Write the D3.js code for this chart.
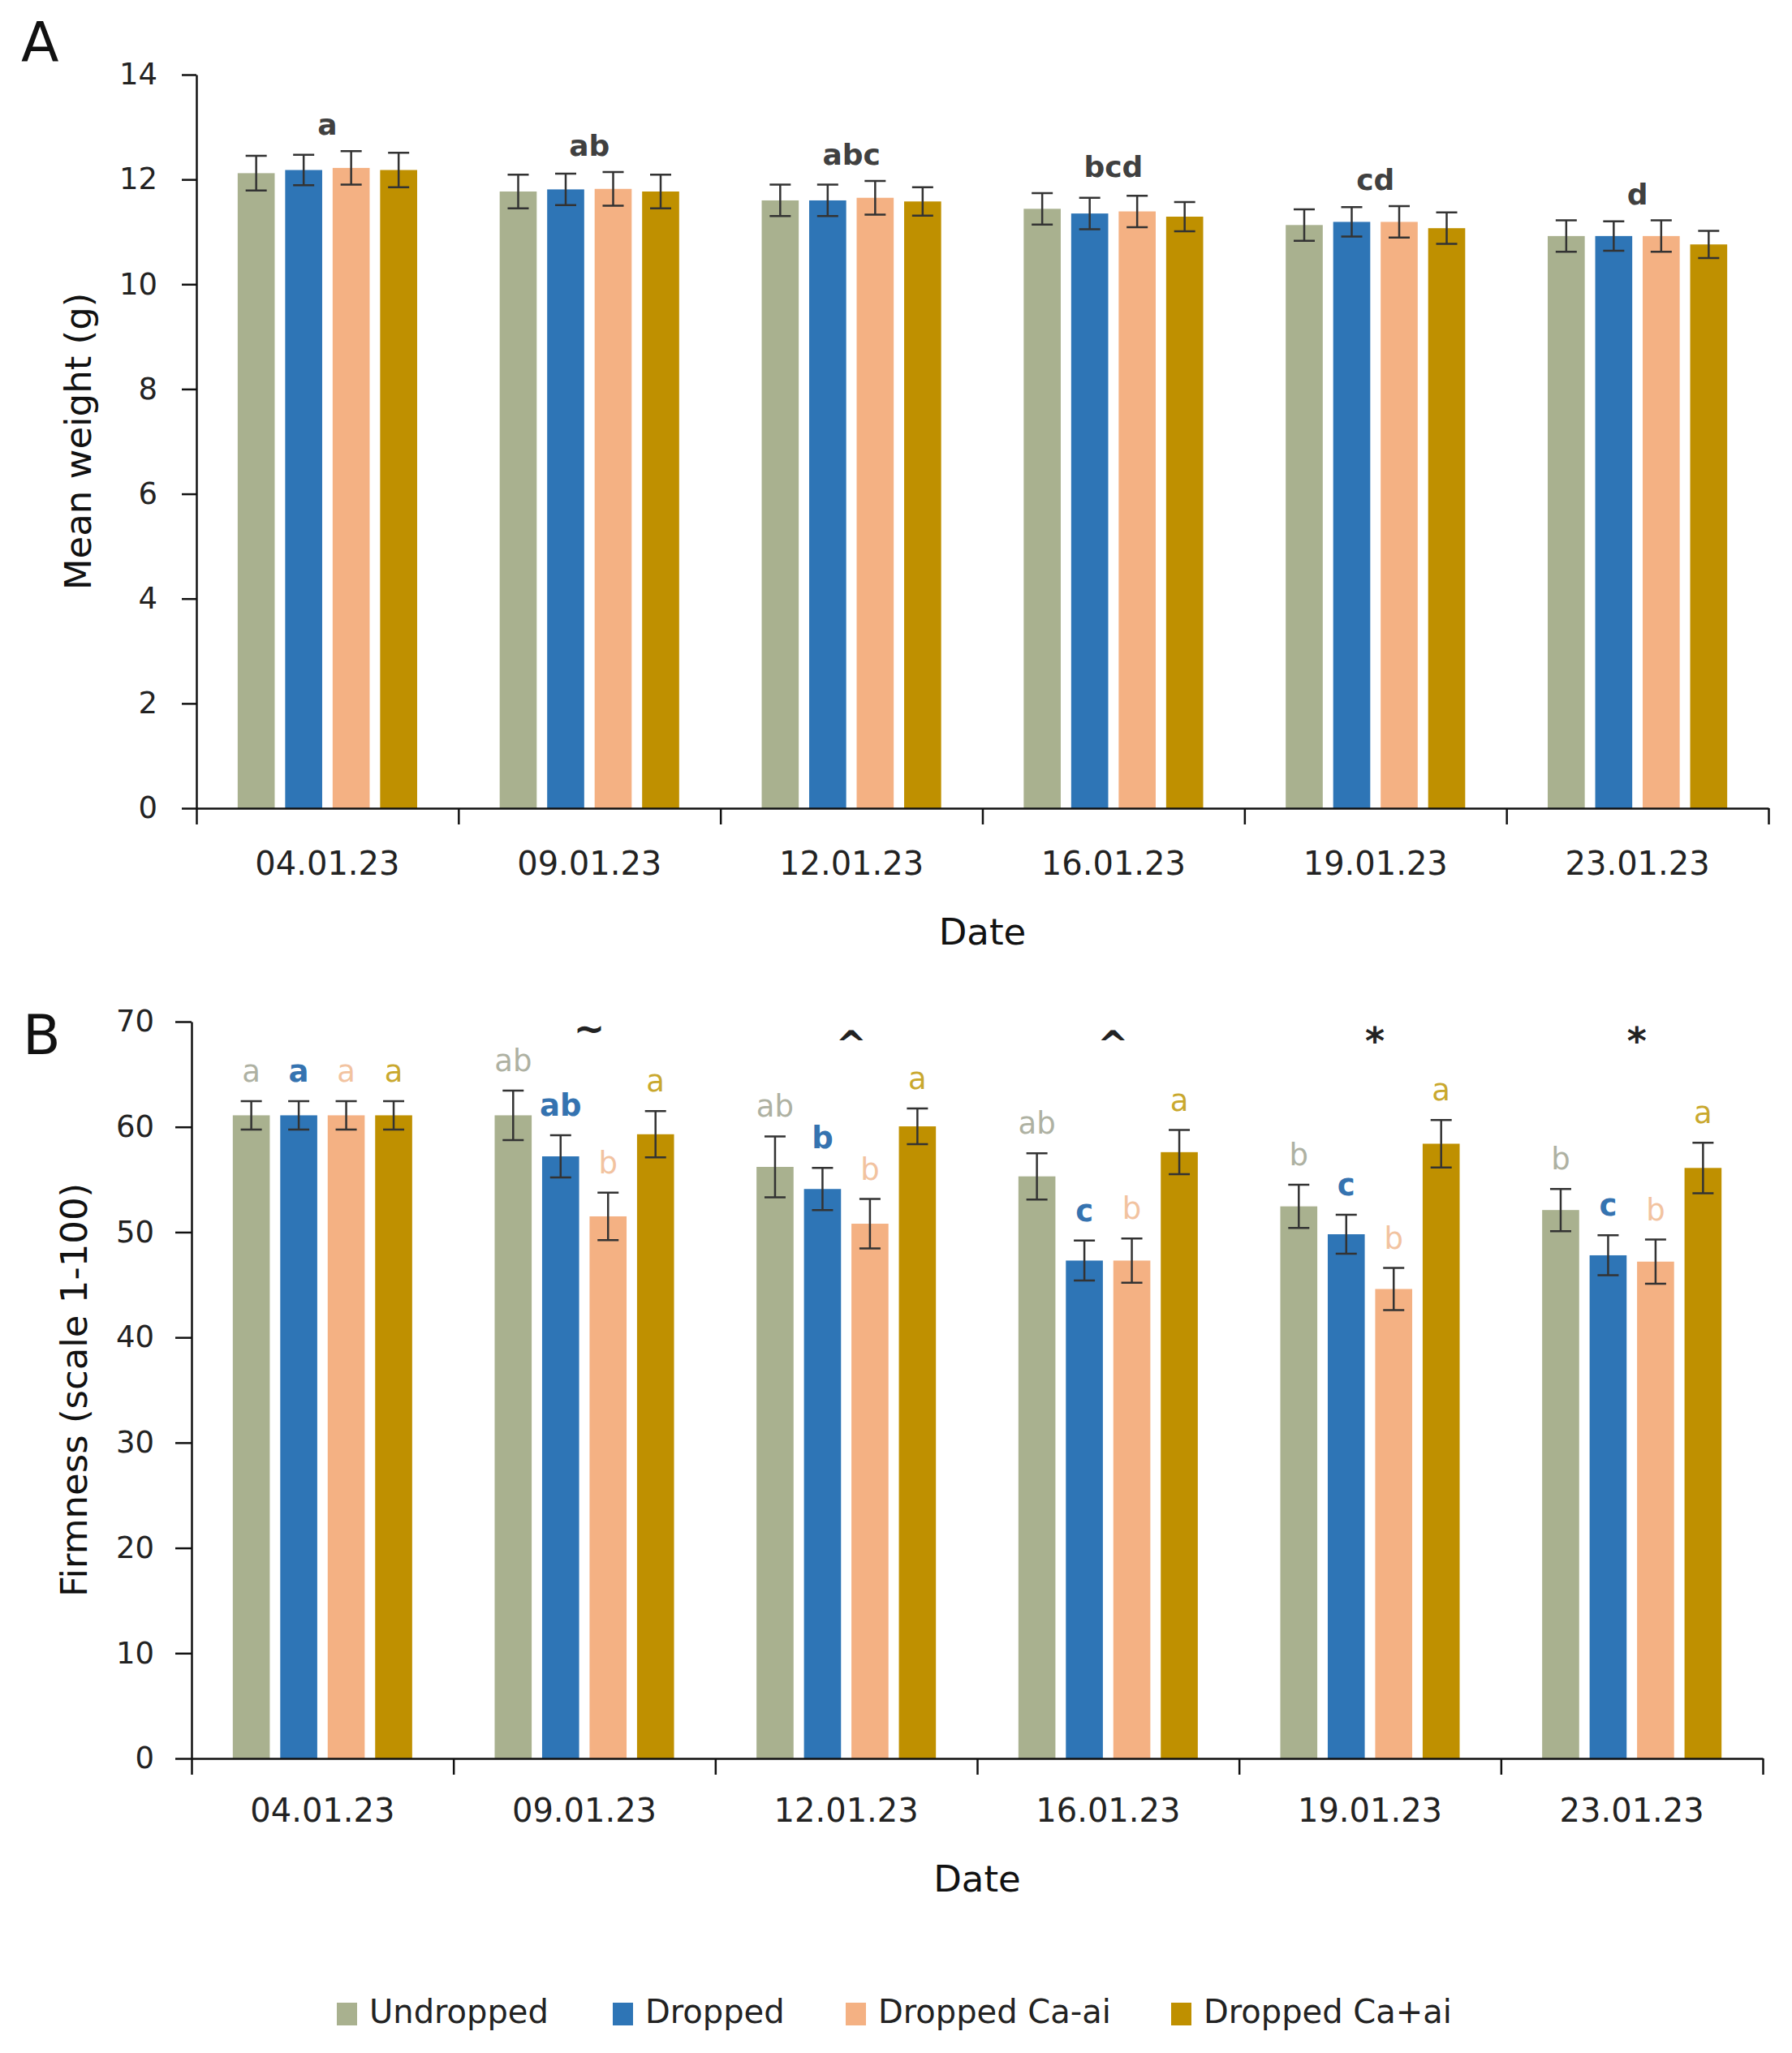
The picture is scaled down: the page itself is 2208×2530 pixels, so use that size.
<!DOCTYPE html>
<html>
<head>
<meta charset="utf-8">
<script src="https://cdn.jsdelivr.net/npm/d3@7"></script>
<style>
  body { margin: 0; background: #fff; }
  svg { display: block; font-family: "DejaVu Sans", sans-serif; }
</style>
</head>
<body>
<div id="chart"></div>
<script>
// categories
const dates = ["04.01.23", "09.01.23", "12.01.23", "16.01.23", "19.01.23", "23.01.23"];
const seriesNames = ["Undropped", "Dropped", "Dropped Ca-ai", "Dropped Ca+ai"];

// A: mean weight (g)
const weightUndropped = [12.12, 11.77, 11.60, 11.44, 11.13, 10.92];
const weightDropped   = [12.18, 11.81, 11.60, 11.35, 11.19, 10.92];
const weightCaMinus   = [12.22, 11.82, 11.65, 11.39, 11.19, 10.92];
const weightCaPlus    = [12.18, 11.77, 11.58, 11.29, 11.07, 10.76];
const weightErrUndropped = [0.33, 0.32, 0.30, 0.30, 0.30, 0.30];
const weightErrDropped   = [0.29, 0.30, 0.30, 0.30, 0.28, 0.28];
const weightErrCaMinus   = [0.32, 0.32, 0.32, 0.30, 0.30, 0.30];
const weightErrCaPlus    = [0.33, 0.32, 0.27, 0.28, 0.30, 0.26];
const weightLetters = ["a", "ab", "abc", "bcd", "cd", "d"];
const weightTicks = [0, 2, 4, 6, 8, 10, 12, 14];

// B: firmness (scale 1-100)
const firmUndropped = [61.1, 61.1, 56.2, 55.3, 52.45, 52.1];
const firmDropped   = [61.1, 57.2, 54.1, 47.3, 49.8, 47.8];
const firmCaMinus   = [61.1, 51.5, 50.8, 47.3, 44.6, 47.2];
const firmCaPlus    = [61.1, 59.3, 60.05, 57.6, 58.4, 56.1];
const firmErrUndropped = [1.35, 2.35, 2.9, 2.2, 2.05, 2.0];
const firmErrDropped   = [1.35, 2.0, 2.0, 1.9, 1.85, 1.9];
const firmErrCaMinus   = [1.35, 2.25, 2.35, 2.1, 2.0, 2.1];
const firmErrCaPlus    = [1.35, 2.2, 1.7, 2.1, 2.25, 2.4];
const firmLettersUndropped = ["a", "ab", "ab", "ab", "b", "b"];
const firmLettersDropped   = ["a", "ab", "b", "c", "c", "c"];
const firmLettersCaMinus   = ["a", "b", "b", "b", "b", "b"];
const firmLettersCaPlus    = ["a", "a", "a", "a", "a", "a"];
const firmSymbols = ["", "~", "^", "^", "*", "*"];
const firmTicks = [0, 10, 20, 30, 40, 50, 60, 70];

const colors = ["#A9B18F", "#2E75B6", "#F4B183", "#BF9000"];
const letterColors = ["#AEB1A2", "#3573B0", "#F2C3A0", "#C9A82E"];
const letterWeights = ["normal", "bold", "normal", "normal"];

const W = 2208, H = 2530;
const svg = d3.select("#chart").append("svg")
  .attr("width", W)
  .attr("height", H);

function drawPanel(cfg) {
  const x0 = d3.scaleBand()
    .domain(dates)
    .range([cfg.left, cfg.right])
    .paddingInner(0.315)
    .paddingOuter(0.1575);
  const x1 = d3.scaleBand()
    .domain(seriesNames)
    .range([0, x0.bandwidth()])
    .paddingInner(0.22);
  const y = d3.scaleLinear()
    .domain([0, cfg.yMax])
    .range([cfg.bottom, cfg.top]);

  const rows = [];
  dates.forEach((d, i) => {
    seriesNames.forEach((s, j) => {
      rows.push({
        date: d, series: s, j: j,
        mean: cfg.means[j][i],
        err: cfg.errs[j][i],
        letter: cfg.letters ? cfg.letters[j][i] : ""
      });
    });
  });

  const g = svg.append("g");

  // bars
  g.append("g").selectAll("rect")
    .data(rows)
    .enter()
    .append("rect")
    .attr("x", d => x0(d.date) + x1(d.series))
    .attr("y", d => y(d.mean))
    .attr("width", x1.bandwidth())
    .attr("height", d => y(0) - y(d.mean))
    .attr("fill", d => colors[d.j]);

  // error bars
  const cap = 13;
  g.append("g").selectAll("path")
    .data(rows)
    .enter()
    .append("path")
    .attr("d", d => {
      const cx = x0(d.date) + x1(d.series) + x1.bandwidth() / 2;
      const t = y(d.mean + d.err), b = y(d.mean - d.err);
      return `M${cx},${t}V${b}M${cx - cap},${t}H${cx + cap}M${cx - cap},${b}H${cx + cap}`;
    })
    .attr("fill", "none")
    .attr("stroke", "#333")
    .attr("stroke-width", 2.5);

  // per-bar letters
  if (cfg.letters) {
    g.append("g").selectAll("text")
      .data(rows)
      .enter()
      .append("text")
      .attr("x", d => x0(d.date) + x1(d.series) + x1.bandwidth() / 2)
      .attr("y", d => y(d.mean + d.err) - 24)
      .attr("text-anchor", "middle")
      .style("font-size", "37px")
      .style("font-weight", d => letterWeights[d.j])
      .attr("fill", d => letterColors[d.j])
      .text(d => d.letter);
  }

  // group letters (panel A)
  if (cfg.groupLetters) {
    g.append("g").selectAll("text")
      .data(dates)
      .enter()
      .append("text")
      .attr("x", d => x0(d) + x0.bandwidth() / 2)
      .attr("y", (d, i) => y(d3.max(cfg.means, (m, j) => m[i] + cfg.errs[j][i])) - 20)
      .attr("text-anchor", "middle")
      .style("font-size", "36px")
      .style("font-weight", "bold")
      .attr("fill", "#404040")
      .text((d, i) => cfg.groupLetters[i]);
  }

  // significance symbols (panel B)
  if (cfg.symbols) {
    g.append("g").selectAll("text")
      .data(dates)
      .enter()
      .append("text")
      .attr("x", d => x0(d) + x0.bandwidth() / 2 + 6)
      .attr("y", (d, i) => cfg.symbols[i] === "~" ? cfg.top + 24 : (cfg.symbols[i] === "^" ? cfg.top + 44 : cfg.top + 40))
      .attr("text-anchor", "middle")
      .style("font-size", "46px")
      .style("font-weight", "bold")
      .attr("fill", "#222")
      .text((d, i) => cfg.symbols[i]);
  }

  // y axis
  const yAxis = g.append("g")
    .attr("transform", `translate(${cfg.left},0)`)
    .call(d3.axisLeft(y).tickValues(cfg.ticks).tickSize(cfg.tickLen).tickPadding(cfg.tickPad).tickSizeOuter(0));
  yAxis.select(".domain").attr("stroke-width", 2.5).attr("stroke", "#111");
  yAxis.selectAll(".tick line").attr("stroke-width", 2.5).attr("stroke", "#111");
  yAxis.selectAll(".tick text")
    .style("font-size", "37px")
    .style("font-family", "DejaVu Sans, sans-serif")
    .attr("fill", "#222");

  // x axis: boundary ticks
  const xb = d3.scaleLinear().domain([0, dates.length]).range([cfg.left, cfg.right]);
  const xAxis = g.append("g")
    .attr("transform", `translate(0,${cfg.bottom})`)
    .call(d3.axisBottom(xb).ticks(dates.length).tickFormat("").tickSize(20).tickSizeOuter(0));
  xAxis.select(".domain").attr("stroke-width", 2.5).attr("stroke", "#111");
  xAxis.selectAll(".tick line").attr("stroke-width", 2.5).attr("stroke", "#111");

  // x axis: category labels
  const xLab = g.append("g")
    .attr("transform", `translate(0,${cfg.bottom})`)
    .call(d3.axisBottom(x0).tickSize(0).tickPadding(cfg.datePad));
  xLab.select(".domain").remove();
  xLab.selectAll(".tick text")
    .style("font-size", "40px")
    .style("font-family", "DejaVu Sans, sans-serif")
    .attr("fill", "#222");

  // axis titles
  g.append("text")
    .attr("x", (cfg.left + cfg.right) / 2)
    .attr("y", cfg.bottom + cfg.datePad + 114)
    .attr("text-anchor", "middle")
    .style("font-size", "45px")
    .attr("fill", "#111")
    .text("Date");

  g.append("text")
    .attr("transform", `translate(${cfg.yTitleX},${(cfg.top + cfg.bottom) / 2}) rotate(-90)`)
    .attr("text-anchor", "middle")
    .style("font-size", "45px")
    .attr("fill", "#111")
    .text(cfg.yTitle);

  // panel label
  g.append("text")
    .attr("x", cfg.panelX)
    .attr("y", cfg.panelY)
    .style("font-size", "68px")
    .attr("fill", "#111")
    .text(cfg.panel);
}

drawPanel({
  panel: "A", panelX: 26, panelY: 76,
  left: 242, right: 2179, top: 92, bottom: 996,
  yMax: 14, ticks: weightTicks, tickLen: 18, tickPad: 30,
  datePad: 54, yTitle: "Mean weight (g)", yTitleX: 112,
  means: [weightUndropped, weightDropped, weightCaMinus, weightCaPlus],
  errs: [weightErrUndropped, weightErrDropped, weightErrCaMinus, weightErrCaPlus],
  groupLetters: weightLetters
});

drawPanel({
  panel: "B", panelX: 28, panelY: 1299,
  left: 236, right: 2172, top: 1259, bottom: 2167,
  yMax: 70, ticks: firmTicks, tickLen: 20, tickPad: 26,
  datePad: 50, yTitle: "Firmness (scale 1-100)", yTitleX: 107,
  means: [firmUndropped, firmDropped, firmCaMinus, firmCaPlus],
  errs: [firmErrUndropped, firmErrDropped, firmErrCaMinus, firmErrCaPlus],
  letters: [firmLettersUndropped, firmLettersDropped, firmLettersCaMinus, firmLettersCaPlus],
  symbols: firmSymbols
});

// legend
const legendX = [415, 755, 1042, 1443];
const legend = svg.append("g").selectAll("g")
  .data(seriesNames)
  .enter()
  .append("g")
  .attr("transform", (d, i) => `translate(${legendX[i]},2468)`);
legend.append("rect")
  .attr("width", 25)
  .attr("height", 28)
  .attr("fill", (d, i) => colors[i]);
legend.append("text")
  .attr("x", 40)
  .attr("y", 25)
  .style("font-size", "40px")
  .attr("fill", "#222")
  .text(d => d);
</script>
</body>
</html>
